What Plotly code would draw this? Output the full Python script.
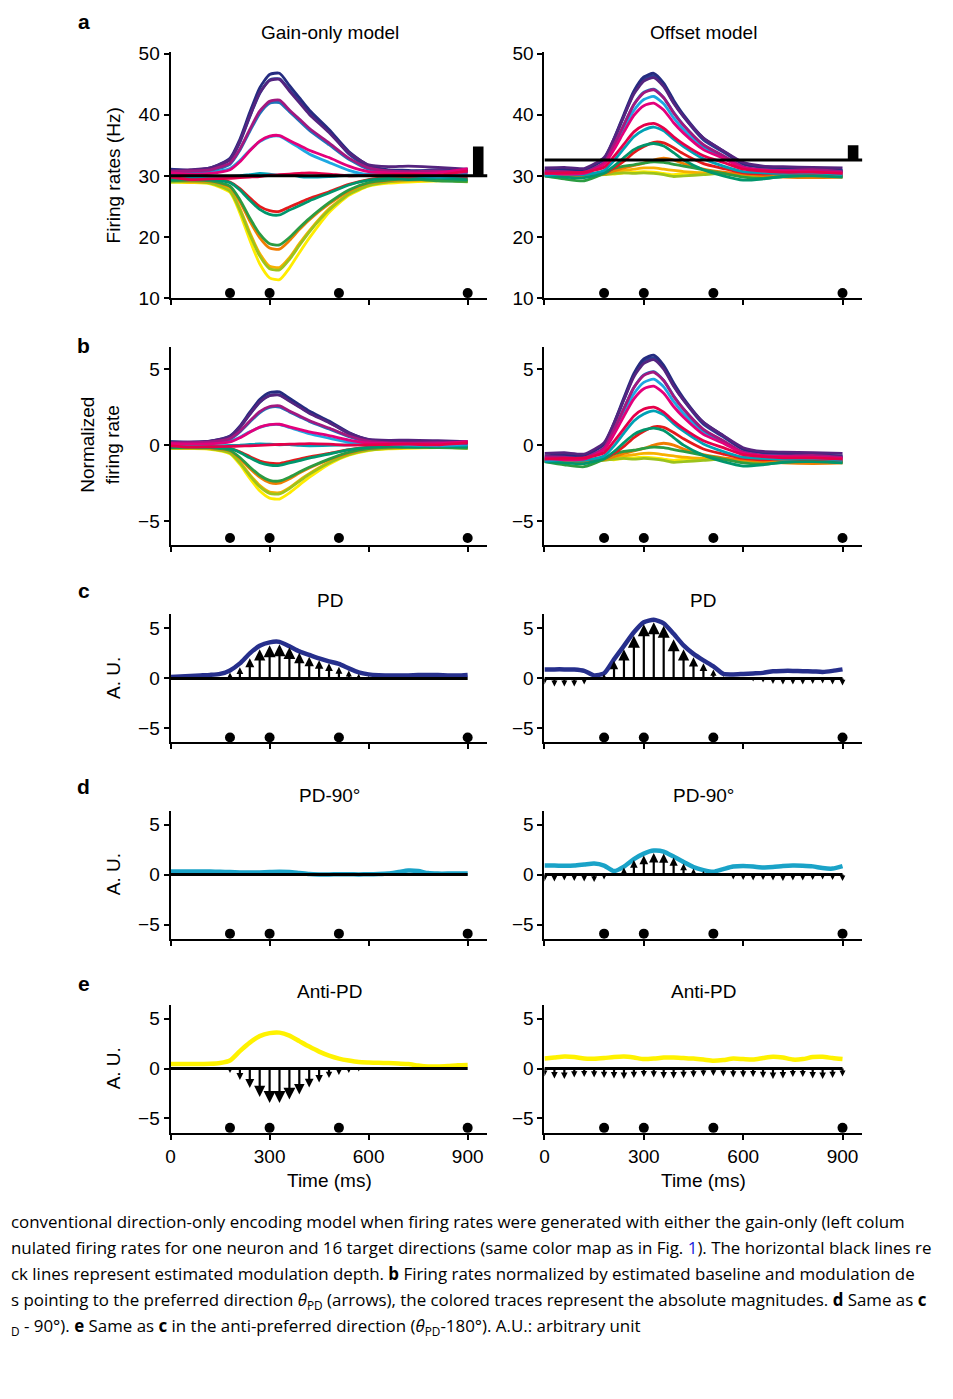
import numpy as np
import plotly.graph_objects as go

# ---------------------------------------------------------------
# data
# ---------------------------------------------------------------
t_rate = [0, 60, 120, 180, 210, 240, 270, 300, 330, 360, 390, 420, 480, 540, 600, 660, 720, 810, 900]
t_vec = list(range(0, 901, 30))
event_times = [180, 300, 510, 900]

# 16 target directions, index 0 = preferred direction
direction_colors = ['#252c80', '#55247f', '#a3187f', '#e3007b', '#e5004a', '#e31a1c', '#f07d00', '#f7b000',
                    '#ffec00', '#9cc31b', '#2c9c42', '#00966c', '#00a1b5', '#1da8e2', '#1f74ba', '#283f95']
draw_order = [8, 7, 9, 6, 10, 5, 11, 12, 13, 14, 15, 0, 1, 2, 3, 4]

# a, left: gain-only model (Hz)
gain_rates = [
    [31.0, 30.9, 31.3, 32.9, 36.0, 40.4, 44.4, 46.6, 46.8, 44.8, 42.8, 40.8, 37.6, 34.0, 31.7, 31.0, 30.9, 30.7, 31.0],
    [30.9, 31.0, 31.3, 32.7, 35.7, 39.8, 43.6, 45.6, 45.8, 43.9, 42.0, 40.1, 37.1, 33.8, 31.8, 31.5, 31.6, 31.4, 31.1],
    [30.7, 30.8, 31.0, 32.1, 34.4, 37.6, 40.6, 42.2, 42.4, 40.8, 39.3, 37.8, 35.4, 32.9, 31.3, 30.8, 30.7, 30.8, 30.6],
    [30.5, 30.3, 30.4, 31.0, 32.3, 34.1, 35.7, 36.5, 36.6, 35.8, 35.0, 34.2, 33.0, 31.6, 30.7, 30.5, 30.4, 30.5, 31.2],
    [29.8, 29.4, 29.5, 29.6, 29.7, 29.8, 29.9, 30.1, 30.2, 30.3, 30.4, 30.5, 30.3, 30.0, 30.1, 30.2, 30.3, 30.1, 30.8],
    [29.5, 29.6, 29.5, 29.0, 27.9, 26.4, 25.0, 24.3, 24.2, 24.9, 25.6, 26.3, 27.4, 28.6, 29.4, 29.7, 29.7, 29.8, 29.6],
    [29.3, 29.2, 29.1, 28.2, 25.8, 22.6, 19.9, 18.2, 18.0, 19.4, 21.2, 22.8, 25.4, 27.5, 28.8, 29.2, 29.4, 29.5, 29.3],
    [29.1, 29.0, 28.9, 27.7, 24.7, 20.7, 17.3, 15.2, 15.0, 16.6, 18.9, 21.0, 24.6, 27.1, 28.6, 29.0, 29.2, 29.3, 29.1],
    [29.0, 28.9, 28.7, 27.3, 23.9, 19.5, 15.6, 13.3, 13.0, 14.9, 17.4, 19.8, 24.0, 26.8, 28.3, 28.8, 29.0, 29.2, 29.2],
    [29.0, 29.1, 28.8, 27.5, 24.4, 20.4, 16.9, 14.8, 14.6, 16.3, 18.6, 20.8, 24.4, 27.0, 28.4, 29.0, 29.3, 29.4, 29.0],
    [29.2, 29.3, 29.2, 28.3, 26.1, 23.1, 20.5, 18.9, 18.7, 19.9, 21.5, 23.0, 25.6, 27.7, 28.9, 29.3, 29.5, 29.2, 29.1],
    [29.4, 29.5, 29.4, 28.9, 27.7, 26.0, 24.5, 23.7, 23.6, 24.4, 25.1, 25.9, 27.2, 28.5, 29.3, 29.6, 29.4, 29.6, 29.4],
    [30.2, 29.9, 29.8, 29.9, 30.0, 30.2, 30.4, 30.3, 30.1, 30.2, 29.9, 29.8, 29.9, 30.1, 30.3, 30.2, 30.0, 29.8, 30.0],
    [30.4, 30.5, 30.6, 31.2, 32.5, 34.2, 35.6, 36.4, 36.5, 35.6, 34.6, 33.6, 32.2, 30.9, 30.2, 30.3, 30.1, 29.9, 30.3],
    [30.8, 30.6, 30.9, 31.9, 34.2, 37.3, 40.2, 41.9, 42.0, 40.5, 39.0, 37.5, 35.1, 32.7, 31.1, 30.6, 30.5, 30.7, 30.6],
    [31.1, 30.9, 31.2, 32.6, 35.5, 39.7, 43.5, 45.7, 45.9, 44.1, 42.2, 40.3, 37.3, 33.6, 31.4, 30.9, 30.7, 31.0, 30.8],
]

# a, right: offset model (Hz)
offset_rates = [
    [30.9, 31.1, 31.0, 32.8, 36.1, 40.1, 43.9, 46.2, 46.8, 45.2, 42.4, 40.0, 36.2, 34.1, 32.0, 31.5, 31.3, 31.1, 30.8],
    [31.3, 31.4, 31.2, 33.0, 36.1, 39.8, 43.4, 45.5, 46.1, 44.6, 41.9, 39.7, 36.2, 34.1, 32.2, 31.6, 31.5, 31.4, 31.3],
    [30.8, 30.7, 30.6, 32.2, 35.1, 38.4, 41.7, 43.6, 44.1, 42.8, 40.3, 38.3, 35.1, 33.3, 31.5, 31.0, 30.9, 31.0, 30.7],
    [30.5, 30.3, 30.4, 31.9, 34.3, 37.2, 39.9, 41.5, 41.9, 40.8, 38.7, 37.0, 34.3, 32.9, 31.3, 30.9, 30.8, 30.7, 30.5],
    [30.4, 30.5, 30.6, 31.4, 33.2, 35.2, 37.2, 38.3, 38.6, 37.8, 36.4, 35.2, 33.3, 32.2, 31.1, 30.8, 30.6, 30.6, 30.4],
    [30.2, 30.4, 30.3, 30.6, 31.3, 32.4, 33.8, 34.8, 35.5, 35.4, 34.6, 33.6, 32.0, 31.2, 30.5, 30.3, 30.4, 30.3, 30.1],
    [30.0, 29.9, 30.0, 30.3, 30.8, 31.3, 31.7, 32.1, 32.6, 32.9, 32.6, 32.0, 31.1, 30.6, 30.3, 30.0, 29.8, 29.7, 29.8],
    [30.2, 30.0, 30.1, 30.4, 30.7, 30.9, 31.1, 31.3, 31.3, 31.1, 30.9, 30.7, 30.5, 30.4, 30.2, 30.1, 30.3, 30.2, 30.0],
    [30.3, 30.4, 30.2, 30.4, 30.3, 30.5, 30.6, 30.7, 30.6, 30.4, 30.2, 30.4, 30.5, 30.3, 30.2, 30.3, 30.4, 30.3, 30.2],
    [30.1, 30.0, 30.0, 30.2, 30.4, 30.5, 30.4, 30.5, 30.4, 30.2, 29.9, 30.0, 30.2, 30.4, 30.1, 30.0, 30.1, 30.2, 29.8],
    [30.0, 29.5, 29.2, 30.4, 31.2, 31.6, 31.8, 32.1, 32.3, 32.2, 31.9, 31.6, 31.0, 30.4, 29.8, 29.6, 29.9, 30.1, 29.9],
    [30.0, 29.8, 29.7, 30.5, 31.6, 33.0, 34.3, 35.0, 35.3, 34.9, 33.8, 32.6, 31.0, 30.0, 29.3, 29.5, 29.9, 30.0, 29.8],
    [30.1, 30.3, 30.2, 30.9, 32.5, 34.5, 36.4, 37.5, 38.0, 37.4, 36.0, 34.8, 32.8, 31.6, 30.7, 30.5, 30.4, 30.5, 30.2],
    [30.3, 30.5, 30.6, 32.0, 34.6, 37.8, 40.7, 42.5, 43.0, 41.8, 39.5, 37.6, 34.6, 33.0, 31.3, 30.8, 30.7, 30.6, 30.5],
    [30.4, 30.6, 30.5, 32.1, 35.0, 38.4, 41.7, 43.7, 44.2, 42.8, 40.4, 38.3, 35.0, 33.2, 31.3, 31.0, 31.2, 30.9, 30.6],
    [30.6, 30.9, 31.0, 32.7, 35.9, 39.8, 43.6, 45.8, 46.4, 44.8, 42.0, 39.7, 35.9, 33.9, 31.9, 31.4, 31.4, 31.1, 30.9],
]

# estimated baseline (black line) and modulation depth (black bar)
gain_baseline, gain_depth = 30.0, 4.8
offset_baseline, offset_depth = 32.6, 2.4

# c-e: absolute magnitudes (coloured traces) and projections (arrows), 30 ms grid
pd_mag_gain = [0.15, 0.2, 0.25, 0.3, 0.35, 0.45, 0.8, 1.5, 2.5, 3.25, 3.6, 3.65, 3.2, 2.7, 2.35, 2.0,
               1.7, 1.45, 1.0, 0.6, 0.4, 0.32, 0.3, 0.3, 0.3, 0.33, 0.35, 0.33, 0.3, 0.28, 0.35]
pd_vec_gain = [0.05, 0.05, 0.05, 0.1, 0.1, 0.15, 0.6, 1.1, 2.0, 2.9, 3.3, 3.4, 3.1, 2.55, 2.15, 1.8,
               1.5, 1.15, 0.8, 0.47, 0.25, 0.1, 0.05, 0.05, 0.05, 0.05, 0.05, 0.05, 0.05, 0.05, 0.05]
pd_mag_offset = [0.9, 0.9, 0.9, 0.88, 0.75, 0.3, 0.5, 1.9, 3.25, 4.6, 5.6, 5.85, 5.5, 4.45, 3.3, 2.45,
                 1.8, 1.2, 0.45, 0.4, 0.45, 0.5, 0.55, 0.72, 0.75, 0.75, 0.72, 0.7, 0.65, 0.75, 0.9]
pd_vec_offset = [-0.6, -0.8, -0.8, -0.8, -0.6, -0.1, 0.45, 1.75, 2.9, 4.25, 5.4, 5.6, 5.25, 3.9, 2.9, 2.1,
                 1.5, 0.9, 0.25, -0.05, -0.2, -0.3, -0.4, -0.55, -0.6, -0.6, -0.6, -0.55, -0.5, -0.6, -0.7]
orth_mag_gain = [0.3, 0.3, 0.32, 0.3, 0.3, 0.28, 0.25, 0.22, 0.2, 0.22, 0.25, 0.28, 0.25, 0.15, 0.05, 0.02,
                 0.02, 0.03, 0.03, 0.02, 0.03, 0.05, 0.1, 0.25, 0.4, 0.35, 0.15, 0.1, 0.1, 0.12, 0.1]
orth_vec_gain = [0.05, 0.05, 0.05, 0.05, 0.05, 0.05, 0.05, 0.0, 0.0, 0.0, 0.05, 0.05, 0.05, 0.0, 0.0, 0.0,
                 0.0, 0.0, 0.0, 0.0, 0.0, 0.0, 0.0, -0.05, -0.05, -0.05, 0.0, 0.0, 0.0, 0.0, 0.0]
orth_mag_offset = [0.9, 0.9, 0.88, 0.9, 1.0, 1.1, 0.9, 0.35, 0.8, 1.55, 2.1, 2.4, 2.3, 1.8, 1.25, 0.75,
                   0.45, 0.28, 0.55, 0.8, 0.85, 0.8, 0.72, 0.75, 0.85, 0.9, 0.88, 0.82, 0.65, 0.6, 0.85]
orth_vec_offset = [-0.7, -0.7, -0.6, -0.65, -0.7, -0.75, -0.5, -0.1, 0.7, 1.45, 1.9, 2.15, 2.1, 1.7, 1.1, 0.6,
                   0.35, 0.15, -0.05, -0.5, -0.55, -0.6, -0.55, -0.6, -0.65, -0.6, -0.6, -0.55, -0.5, -0.55, -0.65]
anti_mag_gain = [0.45, 0.45, 0.45, 0.45, 0.47, 0.55, 0.8, 1.75, 2.6, 3.25, 3.55, 3.6, 3.3, 2.75, 2.2, 1.7,
                 1.3, 1.0, 0.8, 0.65, 0.6, 0.57, 0.55, 0.5, 0.45, 0.3, 0.2, 0.2, 0.25, 0.32, 0.35]
anti_vec_gain = [-0.05, -0.05, -0.05, -0.05, -0.05, -0.1, -0.45, -1.15, -1.95, -2.85, -3.45, -3.45, -3.1, -2.6, -1.9, -1.4,
                 -0.95, -0.65, -0.45, -0.3, -0.15, -0.05, -0.05, -0.05, -0.05, -0.05, -0.05, -0.05, -0.05, -0.05, -0.05]
anti_mag_offset = [1.0, 1.1, 1.2, 1.15, 1.0, 0.98, 1.05, 1.15, 1.2, 1.1, 0.95, 1.0, 1.1, 1.1, 1.05, 1.0,
                   0.9, 0.78, 0.85, 1.0, 0.95, 0.9, 1.05, 1.18, 1.1, 0.9, 0.95, 1.15, 1.18, 1.05, 0.95]
anti_vec_offset = [-0.8, -1.0, -1.05, -0.9, -0.85, -0.9, -0.95, -1.0, -1.05, -0.95, -0.85, -0.9, -1.0, -1.0, -0.95, -0.9,
                   -0.8, -0.75, -0.8, -0.9, -0.9, -0.85, -0.95, -1.05, -1.0, -0.85, -0.85, -1.0, -1.05, -0.95, -0.8]

col_titles = [['Gain-only model', 'Offset model'], [None, None], ['PD', 'PD'], ['PD-90°', 'PD-90°'], ['Anti-PD', 'Anti-PD']]
panel_letters = ['a', 'b', 'c', 'd', 'e']
caption_lines = [
    "conventional direction-only encoding model when firing rates were generated with either the gain-only (left colum",
    "nulated firing rates for one neuron and 16 target directions (same color map as in Fig. <span style='color:#2222dd'>1</span>). The horizontal black lines re",
    "ck lines represent estimated modulation depth. <b>b</b> Firing rates normalized by estimated baseline and modulation de",
    "s pointing to the preferred direction <i>θ</i><sub>PD</sub> (arrows), the colored traces represent the absolute magnitudes. <b>d</b> Same as <b>c</b>",
    "<sub>D</sub> - 90°). <b>e</b> Same as <b>c</b> in the anti-preferred direction (<i>θ</i><sub>PD</sub>-180°). A.U.: arbitrary unit",
]

# ---------------------------------------------------------------
# layout geometry (pixels of the reference, mapped to paper coords)
# ---------------------------------------------------------------
W, H = 953, 1399
SX_A, SX_B = 0.995, 12.4
SY_A, SY_B = 0.9854, 16.3


def fx(p):
    return (p - SX_B) / SX_A / W


def fy(p):
    return 1 - (p - SY_B) / SY_A / H


col_px = [(170, 487), (544, 862)]
row_px = [(52, 298), (347, 545), (614, 742), (810, 938), (1004, 1132)]
y_ranges = [[10, 50.33], [-6.58, 6.45], [-6.4, 6.4], [-6.4, 6.4], [-6.45, 6.4]]
y_ticks = [[10, 20, 30, 40, 50], [-5, 0, 5], [-5, 0, 5], [-5, 0, 5], [-5, 0, 5]]
dot_y = [10.8, -6.1, -5.9, -5.9, -5.95]
FONT = 'Liberation Sans, Arial, sans-serif'


def ax(r, c):
    p = r * 2 + c
    s = '' if p == 0 else str(p + 1)
    return 'x' + s, 'y' + s


def px_per_unit(r):
    y0, y1 = row_px[r]
    return (y1 - y0) / (y_ranges[r][1] - y_ranges[r][0])


fig = go.Figure()

# --- rows a and b: 16 direction traces
rate_sets = [(gain_rates, gain_baseline, gain_depth), (offset_rates, offset_baseline, offset_depth)]
for c, (rates, base, depth) in enumerate(rate_sets):
    rates = np.array(rates)
    norm = (rates - base) / depth
    for r, vals in enumerate([rates, norm]):
        xa, ya = ax(r, c)
        for k in draw_order:
            fig.add_trace(go.Scatter(x=t_rate, y=vals[k], mode='lines',
                                     line=dict(color=direction_colors[k], width=2.8, shape='spline', smoothing=0.6),
                                     xaxis=xa, yaxis=ya, hoverinfo='skip'))
    xa, ya = ax(0, c)
    fig.add_trace(go.Scatter(x=[0, 960], y=[base, base], mode='lines', line=dict(color='black', width=3),
                             xaxis=xa, yaxis=ya, hoverinfo='skip'))
    fig.add_trace(go.Bar(x=[932], y=[depth], base=[base], width=[32], marker=dict(color='black', line=dict(width=0)),
                         xaxis=xa, yaxis=ya, hoverinfo='skip'))

# --- rows c-e: magnitudes and quiver arrows
quiver_sets = [
    (2, pd_mag_gain, pd_vec_gain, pd_mag_offset, pd_vec_offset, '#262f8c'),
    (3, orth_mag_gain, orth_vec_gain, orth_mag_offset, orth_vec_offset, '#1aa3c8'),
    (4, anti_mag_gain, anti_vec_gain, anti_mag_offset, anti_vec_offset, '#fff200'),
]
for r, mg, vg, mo, vo, col in quiver_sets:
    ppu = px_per_unit(r)
    for c, (mag, vec) in enumerate([(mg, vg), (mo, vo)]):
        xa, ya = ax(r, c)
        fig.add_trace(go.Scatter(x=t_vec, y=mag, mode='lines',
                                 line=dict(color=col, width=4.5, shape='spline', smoothing=0.6),
                                 xaxis=xa, yaxis=ya, hoverinfo='skip'))
        fig.add_trace(go.Scatter(x=[t_vec[0], t_vec[-1]], y=[0, 0], mode='lines',
                                 line=dict(color='black', width=3), xaxis=xa, yaxis=ya, hoverinfo='skip'))
        v = np.array(vec, dtype=float)
        t = np.array(t_vec, dtype=float)
        keep = np.abs(v) * ppu >= 2.5
        size = np.minimum(np.minimum(12, 4 + 2.5 * np.abs(v)), np.abs(v) * ppu)
        sx, sy = [], []
        for ti, vi, si in zip(t[keep], v[keep], size[keep]):
            sx += [ti, ti, None]
            sy += [0, vi - np.sign(vi) * si * 0.5 / ppu, None]
        fig.add_trace(go.Scatter(x=sx, y=sy, mode='lines', line=dict(color='black', width=2.2),
                                 xaxis=xa, yaxis=ya, hoverinfo='skip'))
        fig.add_trace(go.Scatter(x=t[keep], y=v[keep], mode='markers',
                                 marker=dict(symbol=['arrow-up' if vi > 0 else 'arrow-down' for vi in v[keep]],
                                             size=size[keep], color='black', opacity=1, line=dict(width=0)),
                                 xaxis=xa, yaxis=ya, hoverinfo='skip'))

# --- event dots
for r in range(5):
    for c in range(2):
        xa, ya = ax(r, c)
        fig.add_trace(go.Scatter(x=event_times, y=[dot_y[r]] * len(event_times), mode='markers',
                                 marker=dict(color='black', size=10), xaxis=xa, yaxis=ya,
                                 hoverinfo='skip', cliponaxis=False))

# --- axes
layout = dict(width=W, height=H, margin=dict(l=0, r=0, t=0, b=0), showlegend=False,
              paper_bgcolor='white', plot_bgcolor='white', barmode='overlay',
              font=dict(family=FONT, size=19, color='black'))
for r in range(5):
    for c in range(2):
        xa, ya = ax(r, c)
        x0, x1 = col_px[c]
        y0, y1 = row_px[r]
        layout['xaxis' + xa[1:]] = dict(domain=[fx(x0), fx(x1)], range=[0, 960], anchor=ya,
                                        tickvals=[0, 300, 600, 900], showticklabels=(r == 4),
                                        ticks='outside', ticklen=5, tickwidth=2, tickcolor='black',
                                        showline=True, linewidth=2, linecolor='black',
                                        showgrid=False, zeroline=False, fixedrange=True,
                                        tickfont=dict(family=FONT, size=19))
        layout['yaxis' + ya[1:]] = dict(domain=[fy(y1), fy(y0)], range=y_ranges[r], anchor=xa,
                                        tickvals=y_ticks[r], ticks='outside', ticklen=5, tickwidth=2,
                                        tickcolor='black', showline=True, linewidth=2, linecolor='black',
                                        showgrid=False, zeroline=False, fixedrange=True,
                                        tickfont=dict(family=FONT, size=19))

# --- text
ann = []


def text(x, y, s, size=19, angle=0, anchor='center', family=FONT):
    ann.append(dict(x=fx(x), y=fy(y), xref='paper', yref='paper', text=s, showarrow=False,
                    xanchor=anchor, yanchor='middle', textangle=angle,
                    font=dict(family=family, size=size, color='black')))


title_y = [33, None, 600, 795, 991]
title_x = [329, 703]
for r in range(5):
    for c in range(2):
        if col_titles[r][c]:
            text(title_x[c], title_y[r], col_titles[r][c])
for r, y in zip(range(5), [22, 345, 590, 786, 983]):
    text(83, y, '<b>%s</b>' % panel_letters[r], size=21)
text(113, 176, 'Firing rates (Hz)', angle=-90)
text(100, 445, 'Normalized<br>firing rate', angle=-90)
for y in [678, 874, 1068]:
    text(113, y, 'A. U.', angle=-90)
text(329, 1180, 'Time (ms)')
text(703, 1180, 'Time (ms)')
for i, line in enumerate(caption_lines):
    text(8, 1221 + 26 * i, line, size=16.9, anchor='left', family='Open Sans, sans-serif')
layout['annotations'] = ann

fig.update_layout(**layout)
fig.write_html("out.html")
